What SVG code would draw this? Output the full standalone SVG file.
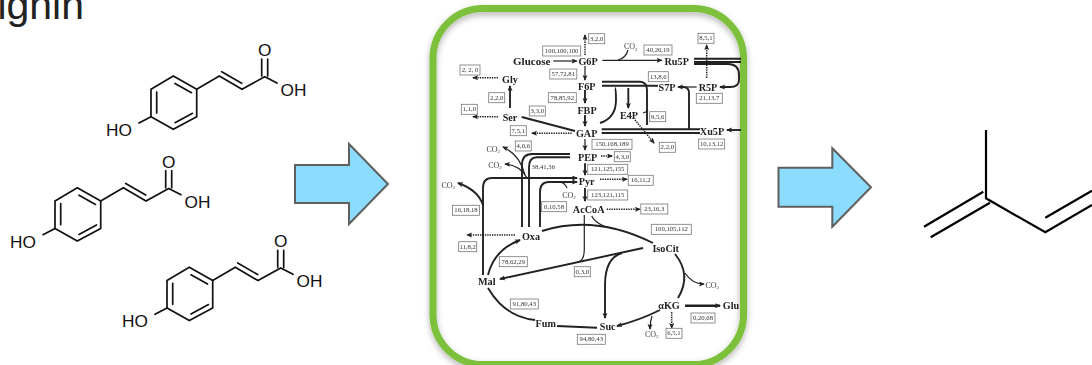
<svg xmlns="http://www.w3.org/2000/svg" xmlns:xlink="http://www.w3.org/1999/xlink" width="1092" height="365" viewBox="0 0 1092 365">
<style>
.bond{fill:none;stroke:#111;stroke-width:1.7;stroke-linecap:round}
.chem{font-family:"Liberation Sans",Arial,sans-serif;font-size:17.3px;fill:#111}
.big{fill:none;stroke:#7bc03b;stroke-width:7}
.block{fill:#8cdcff;stroke:#5f5f5f;stroke-width:2}
.c{fill:none;stroke:#222;stroke-width:1.2}
.t{stroke-width:1.9}
.a{marker-end:url(#ah)}
.d{stroke-dasharray:1.4 1;stroke-width:1.5}
.n{font-family:"Liberation Serif","Times New Roman",serif;font-size:10.2px;font-weight:bold;fill:#222;text-anchor:middle}
.l rect{fill:#fff;stroke:#777;stroke-width:.8}
.l text{font-family:"Liberation Serif","Times New Roman",serif;font-size:6.7px;fill:#333;text-anchor:middle}
.co{font-family:"Liberation Serif","Times New Roman",serif;font-size:8px;fill:#444;text-anchor:middle}
.sub{font-size:5px}
</style>
<defs>
<marker id="ah" markerWidth="7" markerHeight="6" refX="5" refY="2.5" orient="auto" markerUnits="userSpaceOnUse"><path d="M0,0L6,2.5L0,5L1.2,2.5Z" fill="#222"/></marker>
<filter id="soft" x="-5%" y="-5%" width="110%" height="110%"><feGaussianBlur stdDeviation="0.55"/></filter>
<filter id="shadow" x="-5%" y="-5%" width="110%" height="115%"><feDropShadow dx="0" dy="3" stdDeviation="3" flood-color="#000" flood-opacity=".3"/></filter>
<g id="acid">
<path class="bond" d="M173.3,76L196.7,89.3V116.7L173.3,129.3L151,116.7V89.3ZM156.7,92V113M175,83.5L191.5,92.7M175,122.700L192.5,113.300"/>
<path class="bond" d="M196.7,89.3L219.3,76L242,89.3L264.7,76.7L277,83M221.7,71.7L241.7,83.3M261.7,76V59M267.7,76V59M151,116.7L139,123"/>
<text class="chem" x="106" y="136">HO</text><text class="chem" x="280.500" y="96">OH</text><text class="chem" x="258" y="56">O</text>
</g>
</defs>
<rect width="1092" height="365" fill="#fff"/>
<text id="title" x="84" y="19" text-anchor="end" font-family="'Liberation Sans',Arial,sans-serif" font-size="41" fill="#222">ignin</text>
<g id="acid1"><use href="#acid"/></g>
<g id="acid2"><use href="#acid" x="-96" y="111.700"/></g>
<g id="acid3"><use href="#acid" x="16" y="191.300"/></g>
<g id="arrow1"><path class="block" d="M295,165H349V144L388,184L349,224V203H295Z"/></g>
<g id="arrow2"><path class="block" d="M778.500,167.700H832.300V148.300L871,187.300L832.300,226.700V206.700H778.500Z"/></g>
<g id="isoprene"><path fill="none" stroke="#000" stroke-width="2.200" d="M986,130V198.300L1045.300,232.300L1092,205M990,202.700L930.700,237.300M983.300,191.700L924,226.700M1045.300,217.700L1092,190.700"/></g>
<g id="panel"><rect x="433" y="8.500" width="310.500" height="356" rx="50" fill="#fff"/><rect class="big" x="433" y="8.500" width="310.500" height="356" rx="50" filter="url(#shadow)"/></g>
<g id="pathway" filter="url(#soft)">
<g id="connectors">
<path class="c a" d="M553.300,61H576.700"/>
<path class="c a d" d="M585,55V35"/>
<path class="c a" d="M602.300,60.300H661.700"/>
<path class="c" d="M618,60Q626,58 628,50"/>
<path class="c a" d="M585,66V80"/>
<path class="c a t" d="M585,90V103"/>
<path class="c a t" d="M585,115V126"/>
<path class="c a d" d="M498,77.700H473"/>
<path class="c a d" d="M498,116.700H473"/>
<path class="c a t" d="M510,108V86"/>
<path class="c t" d="M521.700,117L575,131"/>
<path class="c t" d="M694,58.700H741M694,62H741"/>
<path class="c a t" d="M694,64H728Q739,64 739,75V80Q739,87 730,87H720"/>
<path class="c a d" d="M706.700,78V45"/>
<path class="c a" d="M696.700,87H678"/>
<path class="c t" d="M679,87H683Q689,87 689,93V130"/>
<path class="c t" d="M602,81.700H640Q647,82 647,90V125"/>
<path class="c t" d="M602,85.700H658"/>
<path class="c a t" d="M628.300,88V108"/>
<path class="c t" d="M615,88Q616,88 616,100Q616,118 600,123"/>
<path class="c" d="M643,113Q647,112 648,110"/>
<path class="c a d" d="M635,120L654,143"/>
<path class="c t" d="M601.700,129.300H700M601.700,133H700"/>
<path class="c a t" d="M741,130H727"/>
<path class="c a d" d="M571.700,133.300H532"/>
<path class="c a" d="M585,139V150"/>
<path class="c a t" d="M585,163.300V175"/>
<path class="c a t" d="M585,188V201"/>
<path class="c a d" d="M601,156H612"/>
<path class="c a d" d="M600,179.300H627"/>
<path class="c a d" d="M606.700,209.300H640"/>
<path class="c t" d="M570,154H532Q522,154 522,165V227M570,157.300H537Q529,157.300 529,167V227"/>
<path class="c a" d="M525,175Q520,155 503,147"/>
<path class="c a" d="M527,178Q520,165 505,164"/>
<path class="c a t" d="M483,275V188Q483,178 492,178H577"/>
<path class="c a t" d="M540,227V192Q540,182 549,182H577"/>
<path class="c" d="M567,188Q565,183 560,182"/>
<path class="c a t" d="M483,205Q478,190 458,183"/>
<path class="c" d="M584.300,215V250Q584,262 577,262"/>
<path class="c" d="M591.700,216Q597,226 615,229"/>
<path class="c t" d="M542,231Q595,214 653,243"/>
<path class="c a d" d="M515,235H467"/>
<path class="c a t" d="M488,275Q494,250 520,240"/>
<path class="c a t" d="M643,248L500,279"/>
<path class="c a t" d="M622,253Q605,258 605,285V318"/>
<path class="c t" d="M675,254Q692,275 678,298"/>
<path class="c a" d="M685,273Q692,284 704,284"/>
<path class="c a t" d="M660,310Q640,320 617,326"/>
<path class="c a" d="M652,316Q650,322 650,329"/>
<path class="c a" style="stroke-width:2.600" d="M685,305.700H720"/>
<path class="c a d" d="M671.700,312V328"/>
<path class="c t" d="M597,327.700L557,326"/>
<path class="c t" d="M488,288Q505,317 535,320"/>
</g>
<g id="n-glucose"><text class="n" x="531.700" y="65" style="font-size:11px">Glucose</text></g>
<g id="n-g6p"><text class="n" x="588" y="65">G6P</text></g>
<g id="n-ru5p"><text class="n" x="676.700" y="64.500">Ru5P</text></g>
<g id="n-gly"><text class="n" x="510" y="82.500">Gly</text></g>
<g id="n-f6p"><text class="n" x="586.700" y="89.500">F6P</text></g>
<g id="n-s7p"><text class="n" x="667" y="90.500">S7P</text></g>
<g id="n-r5p"><text class="n" x="708" y="90.500">R5P</text></g>
<g id="n-fbp"><text class="n" x="587" y="113.500">FBP</text></g>
<g id="n-e4p"><text class="n" x="629" y="118.500">E4P</text></g>
<g id="n-ser"><text class="n" x="510" y="120.500">Ser</text></g>
<g id="n-gap"><text class="n" x="586.700" y="136.500">GAP</text></g>
<g id="n-xu5p"><text class="n" x="712" y="134.500">Xu5P</text></g>
<g id="n-pep"><text class="n" x="587.700" y="160.500">PEP</text></g>
<g id="n-pyr"><text class="n" x="586.700" y="184.500">Pyr</text></g>
<g id="n-accoa"><text class="n" x="588.700" y="212.500">AcCoA</text></g>
<g id="n-oxa"><text class="n" x="531" y="240">Oxa</text></g>
<g id="n-isocit"><text class="n" x="665.700" y="251.500">IsoCit</text></g>
<g id="n-mal"><text class="n" x="486.700" y="285">Mal</text></g>
<g id="n-akg"><text class="n" x="669" y="309">αKG</text></g>
<g id="n-glu"><text class="n" x="731" y="309">Glu</text></g>
<g id="n-fum"><text class="n" x="545.700" y="326.500">Fum</text></g>
<g id="n-suc"><text class="n" x="607.700" y="330">Suc</text></g>
<g class="cos">
<text class="co" x="630.700" y="49">CO<tspan class="sub" dy="1.500">2</tspan></text>
<text class="co" x="493.300" y="151.500">CO<tspan class="sub" dy="1.500">2</tspan></text>
<text class="co" x="495" y="167.500">CO<tspan class="sub" dy="1.500">2</tspan></text>
<text class="co" x="448.300" y="187.500">CO<tspan class="sub" dy="1.500">2</tspan></text>
<text class="co" x="569" y="197.500">CO<tspan class="sub" dy="1.500">2</tspan></text>
<text class="co" x="712.300" y="287.500">CO<tspan class="sub" dy="1.500">2</tspan></text>
<text class="co" x="651.700" y="336.500">CO<tspan class="sub" dy="1.500">2</tspan></text>
</g>
<g class="l">
<g id="l1"><rect x="588.700" y="33.700" width="16" height="10"/><text x="596.700" y="40.700">3,2,0</text></g>
<g id="l2"><rect x="542.700" y="46" width="38" height="10"/><text x="561.700" y="53">100,100,100</text></g>
<g id="l3"><rect x="549.800" y="69" width="27" height="10"/><text x="563.300" y="76">57,72,81</text></g>
<g id="l4"><rect x="644" y="45" width="28" height="10"/><text x="658" y="52">40,26,19</text></g>
<g id="l5"><rect x="698" y="33.300" width="16" height="10"/><text x="706" y="40.300">8,5,1</text></g>
<g id="l6"><rect x="460" y="65" width="20" height="10"/><text x="470" y="72">2, 2, 0</text></g>
<g id="l7"><rect x="648.300" y="71.700" width="20" height="10"/><text x="658.300" y="78.700">13,8,6</text></g>
<g id="l8"><rect x="488.700" y="92.700" width="16" height="10"/><text x="496.700" y="99.700">2,2,0</text></g>
<g id="l9"><rect x="548.300" y="92.700" width="28" height="10"/><text x="562.300" y="99.700">78,85,92</text></g>
<g id="l10"><rect x="696.300" y="93.300" width="26" height="10"/><text x="709.300" y="100.300">21,13,7</text></g>
<g id="l11"><rect x="461.300" y="104.300" width="16" height="10"/><text x="469.300" y="111.300">1,1,0</text></g>
<g id="l12"><rect x="529.300" y="106" width="16" height="10"/><text x="537.300" y="113">3,3,0</text></g>
<g id="l13"><rect x="649.700" y="111.700" width="16" height="10"/><text x="657.700" y="118.700">9,5,6</text></g>
<g id="l14"><rect x="510.300" y="125.700" width="16" height="10"/><text x="518.300" y="132.700">7,5,1</text></g>
<g id="l15"><rect x="592" y="139.300" width="40" height="10"/><text x="612" y="146.300">150,168,189</text></g>
<g id="l16"><rect x="659.300" y="142.300" width="16" height="10"/><text x="667.300" y="149.300">2,2,0</text></g>
<g id="l17"><rect x="698.700" y="139" width="26" height="10"/><text x="711.700" y="146">10,13,12</text></g>
<g id="l18"><rect x="515.300" y="141" width="16" height="10"/><text x="523.300" y="148">4,0,6</text></g>
<g id="l19"><rect x="614.300" y="151.700" width="16" height="10"/><text x="622.300" y="158.700">4,3,0</text></g>
<g id="l20"><rect x="532.500" y="162.300" width="22" height="10" style="stroke:none"/><text x="543.300" y="169.300">38,41,36</text></g>
<g id="l21"><rect x="587.700" y="164.300" width="40" height="10"/><text x="607.700" y="171.300">121,125,155</text></g>
<g id="l22"><rect x="628.200" y="175.300" width="25" height="10"/><text x="640.700" y="182.300">16,11,2</text></g>
<g id="l23"><rect x="452.500" y="205.300" width="27" height="10"/><text x="466" y="212.300">16,18,18</text></g>
<g id="l24"><rect x="587.700" y="190" width="40" height="10"/><text x="607.700" y="197">123,121,115</text></g>
<g id="l25"><rect x="541.500" y="201.700" width="25" height="10"/><text x="554" y="208.700">0,10,58</text></g>
<g id="l26"><rect x="640.800" y="204" width="27" height="10"/><text x="654.300" y="211">23,16,3</text></g>
<g id="l27"><rect x="651.300" y="224.300" width="40" height="10"/><text x="671.300" y="231.300">100,105,112</text></g>
<g id="l28"><rect x="458.700" y="241.700" width="18" height="10"/><text x="467.700" y="248.700">11,8,2</text></g>
<g id="l29"><rect x="499.300" y="256.700" width="28" height="10"/><text x="513.300" y="263.700">78,62,29</text></g>
<g id="l30"><rect x="574.300" y="266.700" width="16" height="10"/><text x="582.300" y="273.700">0,3,0</text></g>
<g id="l31"><rect x="510.300" y="299" width="28" height="10"/><text x="524.300" y="306">91,80,43</text></g>
<g id="l32"><rect x="691" y="313" width="24" height="10"/><text x="703" y="320">0,20,68</text></g>
<g id="l33"><rect x="577.300" y="334.300" width="28" height="10"/><text x="591.300" y="341.300">94,80,43</text></g>
<g id="l34"><rect x="666" y="328.300" width="16" height="10"/><text x="674" y="335.300">6,5,1</text></g>
</g>
</g>
</svg>
